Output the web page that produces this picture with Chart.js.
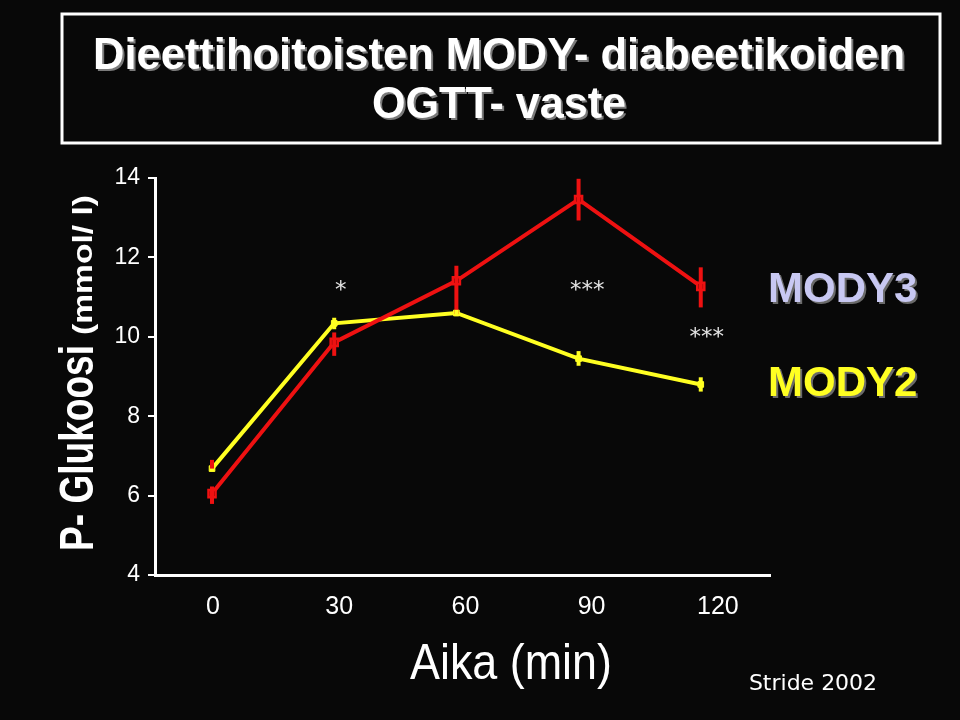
<!DOCTYPE html>
<html>
<head>
<meta charset="utf-8">
<script src="https://cdn.jsdelivr.net/npm/chart.js@4/dist/chart.umd.min.js"></script>
<style>
html,body{margin:0;padding:0;background:#080808;}
#wrap{width:960px;height:720px;position:relative;}
</style>
</head>
<body>
<div id="wrap"><canvas id="c" width="960" height="720"></canvas></div>
<script>
// ---- data ----
const times = [0, 30, 60, 90, 120];
const tickLabels = [0, 30, 60, 90, 120];
const yTicks = [4, 6, 8, 10, 12, 14];
const mody3 = [6.05, 9.86, 11.41, 13.46, 11.27];
const mody3Low = [5.79, 9.52, 10.57, 12.93, 10.74];
const mody3High = [6.23, 10.11, 11.79, 13.98, 11.75];
const mody2 = [6.68, 10.34, 10.60, 9.45, 8.80];
const mody2Low = [6.68, 10.19, 10.52, 9.27, 8.62];
const mody2High = [6.90, 10.48, 10.68, 9.64, 8.98];
const sigMarks = ['*', '***', '***'];
const sigX = [31.6, 92.1, 121.5];
const sigY = [11.25, 11.25, 10.07];
const titleLines = ['Dieettihoitoisten MODY- diabeetikoiden', 'OGTT- vaste'];
const seriesNames = ['MODY3', 'MODY2'];

const RED = '#ee1111';
const YEL = '#ffff22';
const SANS = '"Liberation Sans", Arial, sans-serif';

const pts = (xs, ys) => xs.map((x, i) => ({x: x, y: ys[i]}));

const errorBars = {
  id: 'errorBars',
  afterDatasetsDraw(chart) {
    const ctx = chart.ctx;
    const ys = chart.scales.y;
    const sets = [
      {lo: mody3Low, hi: mody3High, col: () => RED},
      {lo: mody2Low, hi: mody2High, col: (i) => i === 0 ? RED : YEL}
    ];
    ctx.save();
    ctx.lineCap = 'butt';
    sets.forEach((s, d) => {
      times.forEach((t, i) => {
        const px = chart.getDatasetMeta(d).data[i].x;
        ctx.strokeStyle = s.col(i);
        ctx.lineWidth = 4;
        ctx.beginPath();
        ctx.moveTo(px, ys.getPixelForValue(s.lo[i]));
        ctx.lineTo(px, ys.getPixelForValue(s.hi[i]));
        ctx.stroke();
      });
    });
    ctx.restore();
  }
};

// draw text horizontally squeezed/stretched to a target width
function fitText(ctx, text, cx, y, targetW, align) {
  const w = ctx.measureText(text).width;
  const k = targetW / w;
  ctx.save();
  ctx.translate(cx, y);
  ctx.scale(k, 1);
  ctx.textAlign = align || 'center';
  ctx.fillText(text, 0, 0);
  ctx.restore();
}

const decorations = {
  id: 'decorations',
  afterDraw(chart) {
    const ctx = chart.ctx;
    const xs = chart.scales.x, ys = chart.scales.y;
    ctx.save();
    // title box
    ctx.strokeStyle = '#ffffff';
    ctx.lineWidth = 3;
    ctx.strokeRect(62, 14, 878, 129);
    // title text with shadow
    ctx.font = 'bold 44px ' + SANS;
    ctx.textBaseline = 'middle';
    [[titleLines[0], 57, 812], [titleLines[1], 106, 254]].forEach(([t, y, w]) => {
      ctx.fillStyle = '#7a7a7a';
      fitText(ctx, t, 501, y + 2, w);
      ctx.fillStyle = '#ffffff';
      fitText(ctx, t, 499, y, w);
    });
    // y axis label (rotated)
    ctx.save();
    ctx.translate(93, 551);
    ctx.rotate(-Math.PI / 2);
    ctx.textBaseline = 'alphabetic';
    ctx.fillStyle = '#ffffff';
    ctx.font = 'bold 48px ' + SANS;
    fitText(ctx, 'P- Glukoosi', 0, 0, 206, 'left');
    ctx.font = 'bold 27px ' + SANS;
    fitText(ctx, '(mmol/ l)', 216, -1, 140, 'left');
    ctx.restore();
    // x axis title
    ctx.fillStyle = '#ffffff';
    ctx.textBaseline = 'middle';
    ctx.font = '50px ' + SANS;
    fitText(ctx, 'Aika (min)', 511, 665, 202);
    // credit
    ctx.font = '22px "DejaVu Sans", sans-serif';
    ctx.textAlign = 'center';
    ctx.fillText('Stride 2002', 813, 684);
    // significance marks
    ctx.fillStyle = '#e4e4e4';
    ctx.font = '23px "DejaVu Sans", sans-serif';
    sigMarks.forEach((m, i) => {
      ctx.fillText(m, xs.getPixelForValue(sigX[i]), ys.getPixelForValue(sigY[i]) + 4);
    });
    // legend labels with shadow
    ctx.font = 'bold 42px ' + SANS;
    ctx.textAlign = 'left';
    [[seriesNames[0], 290, '#c8c8f2'], [seriesNames[1], 384, '#ffff22']].forEach(([t, y, c]) => {
      ctx.fillStyle = '#6a6a6a';
      ctx.fillText(t, 770, y + 2);
      ctx.fillStyle = c;
      ctx.fillText(t, 768, y);
    });
    ctx.restore();
  }
};

new Chart(document.getElementById('c'), {
  type: 'line',
  data: {
    datasets: [
      {
        label: seriesNames[0],
        data: pts(times, mody3),
        borderColor: RED, backgroundColor: '#550000',
        borderWidth: 4, pointStyle: 'rect', pointRadius: 5,
        pointBorderColor: RED, pointBorderWidth: 2.5,
        xAxisID: 'x', yAxisID: 'y', tension: 0
      },
      {
        label: seriesNames[1],
        data: pts(times, mody2),
        borderColor: YEL, backgroundColor: YEL,
        borderWidth: 4, pointStyle: 'rect', pointRadius: 4,
        pointBorderColor: YEL, pointBorderWidth: 1,
        xAxisID: 'x', yAxisID: 'y', tension: 0
      }
    ]
  },
  options: {
    responsive: false,
    animation: false,
    layout: {padding: {top: 178, right: 190, left: 0, bottom: 0}},
    plugins: {legend: {display: false}, tooltip: {enabled: false}, title: {display: false}},
    scales: {
      x: {type: 'linear', min: -14, max: 137, display: false},
      x2: {
        type: 'linear', position: 'bottom', min: -13.78, max: 132.4,
        afterBuildTicks: (s) => { s.ticks = tickLabels.map(v => ({value: v})); },
        afterFit: (s) => { s.height = 145; },
        grid: {display: false, drawTicks: false},
        border: {display: true, color: '#ffffff', width: 3},
        ticks: {color: '#ffffff', font: {family: SANS, size: 25}, padding: 17, maxRotation: 0}
      },
      y: {
        min: 4, max: 14,
        afterBuildTicks: (s) => { s.ticks = yTicks.map(v => ({value: v})); },
        afterFit: (s) => { s.width = 155; },
        grid: {drawOnChartArea: false, drawTicks: true, tickLength: 7, color: '#ffffff', lineWidth: 2},
        border: {display: true, color: '#ffffff', width: 3},
        ticks: {color: '#ffffff', font: {family: SANS, size: 23}, padding: 8}
      }
    }
  },
  plugins: [errorBars, decorations]
});
</script>
</body>
</html>
